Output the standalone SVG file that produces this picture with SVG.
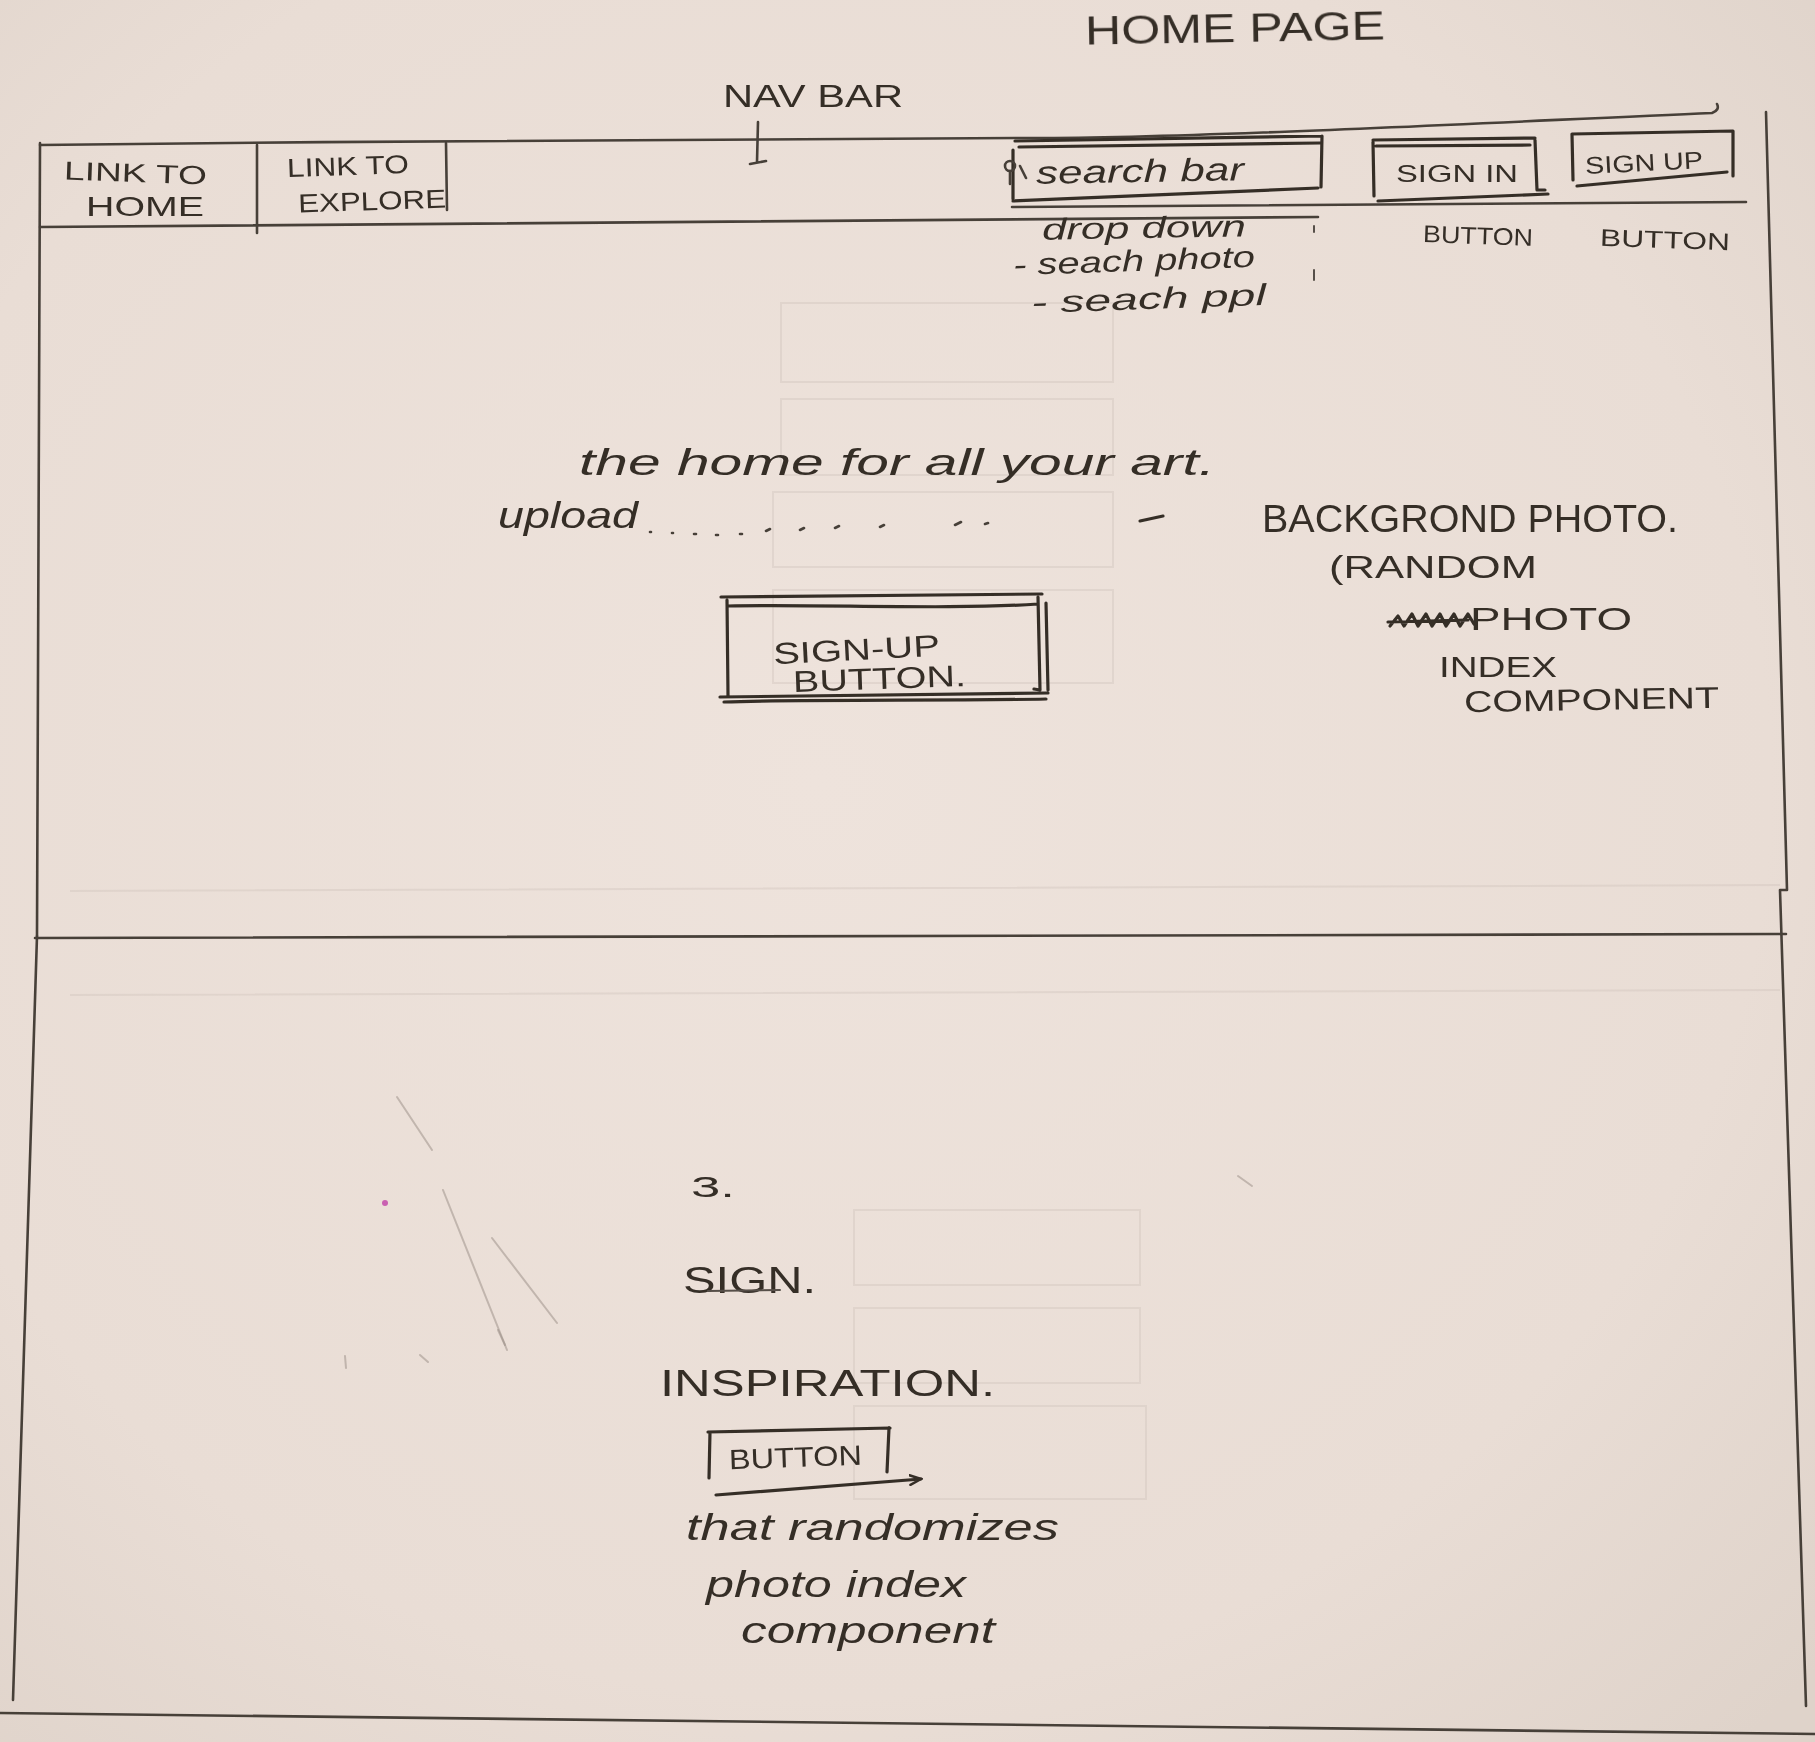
<svg xmlns="http://www.w3.org/2000/svg" width="1815" height="1742" viewBox="0 0 1815 1742">
  <defs>
    <radialGradient id="paper" cx="0.45" cy="0.45" r="0.75">
      <stop offset="0" stop-color="#eee3dc"/>
      <stop offset="0.7" stop-color="#e9ddd5"/>
      <stop offset="1" stop-color="#dfd3ca"/>
    </radialGradient>
    <filter id="soft" x="-2%" y="-2%" width="104%" height="104%">
      <feGaussianBlur stdDeviation="0.7"/>
    </filter>
    <marker id="flick" markerWidth="14" markerHeight="12" refX="12" refY="6" orient="auto" markerUnits="userSpaceOnUse">
      <path d="M0,1 L12,6 L1,11" fill="none" stroke="#352e28" stroke-width="2.5" stroke-linecap="round"/>
    </marker>
  </defs>
  <style>
    .ink { fill: none; stroke: #352e28; stroke-width: 3.2; stroke-linecap: round; stroke-linejoin: round; }
    .pen { fill: none; stroke: #463f39; stroke-width: 2.6; stroke-linecap: round; stroke-linejoin: round; }
    .thin { fill: none; stroke: #574f48; stroke-width: 2; stroke-linecap: round; }
    .ghost { fill: none; stroke: #cfc3bb; stroke-width: 2; opacity: 0.4; }
    .smudge { fill: none; stroke: #978c84; stroke-width: 2; stroke-linecap: round; opacity: 0.5; }
    .hand { font-family: "Liberation Sans", "DejaVu Sans", sans-serif; fill: #352e28; }
    .cursive { font-family: "Liberation Sans", "DejaVu Sans", sans-serif; font-style: italic; fill: #352e28; }
  </style>

  <!-- paper -->
  <rect x="0" y="0" width="1815" height="1742" fill="url(#paper)"/>

  <!-- faint show-through from the sheet underneath -->
  <g id="show-through">
    <rect class="ghost" x="781" y="303" width="332" height="79"/>
    <rect class="ghost" x="781" y="399" width="332" height="76"/>
    <rect class="ghost" x="773" y="492" width="340" height="75"/>
    <rect class="ghost" x="773" y="590" width="340" height="93"/>
    <rect class="ghost" x="854" y="1210" width="286" height="75"/>
    <rect class="ghost" x="854" y="1308" width="286" height="75"/>
    <rect class="ghost" x="854" y="1406" width="292" height="93"/>
    <path class="ghost" d="M70,891 L1780,885 M70,995 L1780,990"/>
  </g>

  <!-- stray pencil marks -->
  <g id="pencil-marks">
    <path class="smudge" d="M397,1097 L432,1150"/>
    <path class="smudge" d="M443,1190 L507,1350" opacity="0.35"/>
    <path class="smudge" d="M492,1238 L557,1323"/>
    <path class="smudge" d="M498,1330 L505,1345 M420,1355 L428,1362 M345,1356 L346,1368"/>
    <path class="smudge" d="M1238,1176 L1252,1186" stroke="#352e28" opacity="0.8"/>
    <circle cx="385" cy="1203" r="3" fill="#c040a8" opacity="0.8"/>
  </g>

  <g filter="url(#soft)">
    <!-- page frame -->
    <g id="frame">
      <path class="pen" d="M40,145 C400,141 860,137 1020,138 S1500,122 1712,113 q8,-3 5,-9"/>
      <path class="pen" d="M40,143 L37,936"/>
      <path class="pen" d="M37,936 L13,1700"/>
      <path class="pen" d="M1766,112 L1787,890 L1780,890 L1806,1706"/>
      <path class="pen" d="M35,938 L1786,934"/>
      <path class="pen" d="M0,1713 L1815,1734"/>
    </g>

    <!-- title -->
    <g id="title">
      <text class="hand" x="1085" y="42" font-size="40" textLength="300" lengthAdjust="spacingAndGlyphs" transform="rotate(-1 1235 30)">HOME PAGE</text>
    </g>

    <!-- navigation bar -->
    <g id="nav-bar">
      <text class="hand" x="723" y="107" font-size="32" textLength="180" lengthAdjust="spacingAndGlyphs">NAV BAR</text>
      <path class="pen" d="M40,227 L1318,217"/>
      <path class="pen" d="M1012,207 L1746,202"/>
    </g>

    <g id="link-home">
      <path class="pen" d="M257,145 L257,233"/>
      <text class="hand" x="64" y="182" font-size="26" textLength="143" lengthAdjust="spacingAndGlyphs" transform="rotate(2 135 175)">LINK TO</text>
      <text class="hand" x="86" y="216" font-size="28" textLength="118" lengthAdjust="spacingAndGlyphs">HOME</text>
    </g>

    <g id="link-explore">
      <path class="pen" d="M446,143 L447,210"/>
      <text class="hand" x="287" y="175" font-size="26" textLength="122" lengthAdjust="spacingAndGlyphs" transform="rotate(-2 348 168)">LINK TO</text>
      <text class="hand" x="298" y="210" font-size="26" textLength="148" lengthAdjust="spacingAndGlyphs" transform="rotate(-2 372 200)">EXPLORE</text>
    </g>

    <g id="search-bar">
      <path class="ink" d="M1015,141 L1322,136 M1019,147 L1320,143 M1322,136 L1321,187 M1013,150 L1013,199 M1013,201 L1318,188"/>
      <circle class="pen" cx="1010" cy="166" r="5"/>
      <path class="pen" d="M1010,171 L1010,184 M1020,166 L1026,178"/>
      <text class="cursive" x="1036" y="182" font-size="32" textLength="208" lengthAdjust="spacingAndGlyphs" transform="rotate(-1 1140 172)">search bar</text>
      <text class="cursive" x="1042" y="238" font-size="30" textLength="204" lengthAdjust="spacingAndGlyphs" transform="rotate(-1 1144 228)">drop down</text>
      <text class="cursive" x="1013" y="271" font-size="30" textLength="242" lengthAdjust="spacingAndGlyphs" transform="rotate(-2 1134 260)">- seach photo</text>
      <text class="cursive" x="1031" y="309" font-size="30" textLength="235" lengthAdjust="spacingAndGlyphs" transform="rotate(-2 1148 298)">- seach ppl</text>
      <path class="thin" d="M1314,226 L1314,232 M1314,270 L1314,280"/>
    </g>

    <g id="sign-in">
      <path class="ink" d="M1373,140 L1535,138 M1376,146 L1530,145 M1373,142 L1374,196 M1535,140 L1537,190 L1545,190 M1378,201 L1548,194"/>
      <text class="hand" x="1396" y="182" font-size="24" textLength="122" lengthAdjust="spacingAndGlyphs">SIGN IN</text>
      <text class="hand" x="1423" y="244" font-size="24" textLength="110" lengthAdjust="spacingAndGlyphs" transform="rotate(2 1478 236)">BUTTON</text>
    </g>

    <g id="sign-up">
      <path class="ink" d="M1572,134 L1733,131 M1572,134 L1573,180 M1733,131 L1733,176 M1577,186 L1727,172"/>
      <text class="hand" x="1585" y="171" font-size="24" textLength="118" lengthAdjust="spacingAndGlyphs" transform="rotate(-3 1644 162)">SIGN UP</text>
      <text class="hand" x="1600" y="248" font-size="24" textLength="130" lengthAdjust="spacingAndGlyphs" transform="rotate(2 1665 240)">BUTTON</text>
    </g>

    <!-- hero area -->
    <g id="tagline">
      <text class="cursive" x="579" y="475" font-size="36" textLength="636" lengthAdjust="spacingAndGlyphs">the home for all your art.</text>
      <text class="cursive" x="498" y="528" font-size="36" textLength="140" lengthAdjust="spacingAndGlyphs">upload</text>
      <path class="pen" d="M650,532 h1 M672,533 h1 M694,534 h2 M716,535 h2 M740,534 h2 M766,531 l4,-2 M800,530 l4,-2 M835,528 l4,-2 M880,527 l4,-2 M955,525 l6,-3 M985,524 l3,-1"/>
      <path class="ink" d="M1140,521 L1163,516"/>
    </g>

    <g id="hero-signup-button">
      <path class="ink" d="M721,597 L1042,594 M728,606 C820,604 950,610 1038,604 M727,600 L728,695 M1038,597 L1040,690 L1034,689 M1046,603 L1048,690 M720,697 L1048,693 M724,702 C800,699 950,701 1046,699"/>
      <text class="hand" x="773" y="660" font-size="30" textLength="167" lengthAdjust="spacingAndGlyphs" transform="rotate(-3 856 650)">SIGN-UP</text>
      <text class="hand" x="793" y="689" font-size="30" textLength="173" lengthAdjust="spacingAndGlyphs" transform="rotate(-2 880 680)">BUTTON.</text>
    </g>

    <g id="background-photo-note">
      <text class="hand" x="1262" y="532" font-size="38" textLength="416" lengthAdjust="spacingAndGlyphs">BACKGROND PHOTO.</text>
      <text class="hand" x="1329" y="578" font-size="32" textLength="208" lengthAdjust="spacingAndGlyphs">(RANDOM</text>
      <path class="ink" d="M1390,626 l8,-10 l6,10 l8,-12 l6,12 l8,-12 l6,12 l8,-12 l6,12 l8,-12 l6,12 l8,-12 l6,10 M1388,622 L1468,620" stroke-width="4"/>
      <text class="hand" x="1470" y="630" font-size="32" textLength="162" lengthAdjust="spacingAndGlyphs">PHOTO</text>
      <text class="hand" x="1439" y="677" font-size="30" textLength="118" lengthAdjust="spacingAndGlyphs">INDEX</text>
      <text class="hand" x="1464" y="710" font-size="30" textLength="255" lengthAdjust="spacingAndGlyphs" transform="rotate(-1 1590 700)">COMPONENT</text>
    </g>

    <!-- lower section -->
    <g id="section-3">
      <text class="hand" x="691" y="1197" font-size="30" textLength="44" lengthAdjust="spacingAndGlyphs">3.</text>
      <text class="hand" x="683" y="1293" font-size="36" textLength="133" lengthAdjust="spacingAndGlyphs">SIGN.</text>
      <path class="thin" d="M708,1291 L780,1290"/>
      <text class="hand" x="660" y="1396" font-size="36" textLength="335" lengthAdjust="spacingAndGlyphs">INSPIRATION.</text>
    </g>

    <g id="inspiration-button">
      <path class="ink" d="M708,1432 L890,1428 M710,1432 L709,1478 M889,1428 L887,1472"/>
      <text class="hand" x="729" y="1467" font-size="28" textLength="133" lengthAdjust="spacingAndGlyphs" transform="rotate(-2 795 1458)">BUTTON</text>
    </g>

    <g id="inspiration-note">
      <text class="cursive" x="686" y="1540" font-size="36" textLength="373" lengthAdjust="spacingAndGlyphs">that randomizes</text>
      <text class="cursive" x="706" y="1597" font-size="36" textLength="260" lengthAdjust="spacingAndGlyphs">photo index</text>
      <text class="cursive" x="741" y="1643" font-size="36" textLength="254" lengthAdjust="spacingAndGlyphs">component</text>
    </g>

    <!-- connectors -->
    <g id="connectors">
      <path class="pen" d="M758,122 L757,162 M750,164 L766,161"/>
      <path class="ink" d="M716,1495 L921,1479" marker-end="url(#flick)"/>
    </g>
  </g>
</svg>
